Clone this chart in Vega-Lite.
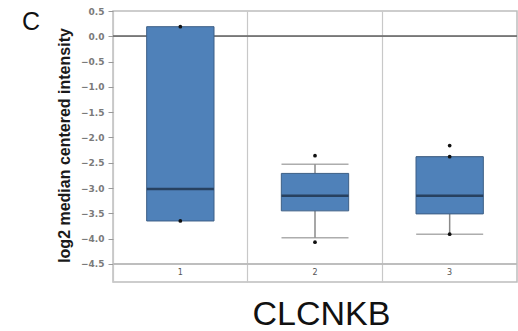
{
  "$schema": "https://vega.github.io/schema/vega-lite/v6.json",
  "width": 404,
  "height": 271,
  "autosize": "none",
  "padding": {"left": 113, "top": 11, "right": 1, "bottom": 49},
  "background": "white",
  "title": {
    "text": "C",
    "orient": "top",
    "anchor": "start",
    "frame": "group",
    "dx": -91,
    "dy": 28,
    "offset": 0,
    "font": "Liberation Sans",
    "fontSize": 25,
    "fontWeight": "normal",
    "color": "#111"
  },
  "config": {
    "view": {"stroke": "#bdbdbd", "strokeWidth": 1.5},
    "font": "DejaVu Sans"
  },
  "datasets": {
    "boxes": [
      {"group": "1", "lower": null, "q1": -3.65, "median": -3.02, "q3": 0.19, "upper": null},
      {"group": "2", "lower": -3.98, "q1": -3.45, "median": -3.15, "q3": -2.71, "upper": -2.53},
      {"group": "3", "lower": -3.91, "q1": -3.51, "median": -3.15, "q3": -2.38, "upper": -2.38}
    ],
    "points": [
      {"group": "1", "value": 0.19},
      {"group": "1", "value": -3.65},
      {"group": "2", "value": -2.36},
      {"group": "2", "value": -4.07},
      {"group": "3", "value": -2.16},
      {"group": "3", "value": -2.38},
      {"group": "3", "value": -3.91}
    ]
  },
  "encoding": {
    "x": {
      "field": "group",
      "type": "ordinal",
      "scale": {"domain": ["1", "2", "3"], "paddingInner": 0, "paddingOuter": 0},
      "axis": {
        "title": "CLCNKB",
        "titleFont": "Liberation Sans",
        "titleFontSize": 34,
        "titleFontWeight": "normal",
        "titleColor": "#111",
        "titlePadding": 15,
        "titleX": 208,
        "labels": false,
        "ticks": false,
        "domain": false,
        "grid": true,
        "bandPosition": 0,
        "gridColor": "#c8c8c8",
        "gridWidth": 1.2
      }
    }
  },
  "layer": [
    {
      "data": {"name": "boxes"},
      "mark": {"type": "rule", "color": "#bdbdbd", "strokeWidth": 1.5},
      "encoding": {
        "x": null,
        "y": {
          "datum": -4.5,
          "type": "quantitative",
          "scale": {"domain": [-4.856, 0.5], "nice": false, "zero": false},
          "axis": {
            "title": "log2 median centered intensity",
            "titleFont": "Liberation Sans",
            "titleFontSize": 16,
            "titleFontWeight": "bold",
            "titleColor": "#1a1a1a",
            "titleX": -41,
            "titleY": 134,
            "values": [0.5, 0, -0.5, -1, -1.5, -2, -2.5, -3, -3.5, -4, -4.5],
            "tickCount": 30,
            "format": ".1f",
            "labelOverlap": false,
            "labelFontSize": 9,
            "labelFontWeight": "bold",
            "labelColor": "#7a7a7a",
            "labelPadding": 4,
            "tickSize": 5,
            "tickColor": "#999",
            "domain": false,
            "grid": false
          }
        }
      }
    },
    {
      "data": {"name": "boxes"},
      "mark": {"type": "rule", "color": "#777", "strokeWidth": 1.6},
      "encoding": {"x": null, "y": {"datum": 0, "type": "quantitative"}}
    },
    {
      "data": {"name": "boxes"},
      "mark": {"type": "rule", "color": "#8a8a8a", "strokeWidth": 1.5},
      "encoding": {
        "y": {"field": "lower", "type": "quantitative"},
        "y2": {"field": "q1"}
      }
    },
    {
      "data": {"name": "boxes"},
      "mark": {"type": "rule", "color": "#8a8a8a", "strokeWidth": 1.5},
      "encoding": {
        "y": {"field": "q3", "type": "quantitative"},
        "y2": {"field": "upper"}
      }
    },
    {
      "data": {"name": "boxes"},
      "transform": [{"filter": "datum.lower != null"}],
      "mark": {"type": "tick", "color": "#8a8a8a", "thickness": 1.5, "size": 67},
      "encoding": {"y": {"field": "lower", "type": "quantitative"}}
    },
    {
      "data": {"name": "boxes"},
      "transform": [{"filter": "datum.upper != null"}],
      "mark": {"type": "tick", "color": "#8a8a8a", "thickness": 1.5, "size": 67},
      "encoding": {"y": {"field": "upper", "type": "quantitative"}}
    },
    {
      "data": {"name": "boxes"},
      "mark": {"type": "bar", "color": "#4f81b9", "stroke": "#3d5f86", "strokeWidth": 1, "width": {"band": 0.5}},
      "encoding": {
        "y": {"field": "q1", "type": "quantitative"},
        "y2": {"field": "q3"}
      }
    },
    {
      "data": {"name": "boxes"},
      "mark": {"type": "tick", "color": "#17263a", "thickness": 2.5, "size": 67},
      "encoding": {"y": {"field": "median", "type": "quantitative"}}
    },
    {
      "data": {"name": "points"},
      "mark": {"type": "point", "filled": true, "color": "#111", "size": 14, "opacity": 1},
      "encoding": {"y": {"field": "value", "type": "quantitative"}}
    },
    {
      "data": {"name": "boxes"},
      "mark": {"type": "text", "fontSize": 8, "color": "#555", "baseline": "middle"},
      "encoding": {
        "y": {"datum": -4.68, "type": "quantitative"},
        "text": {"field": "group"}
      }
    }
  ]
}
